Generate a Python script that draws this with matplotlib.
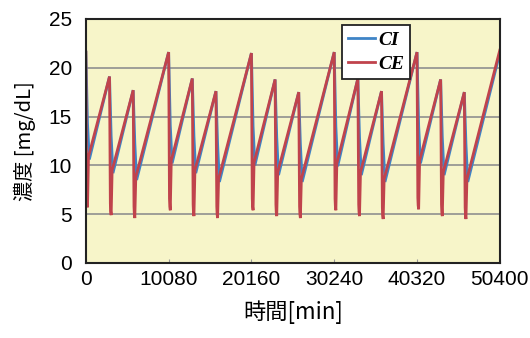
import matplotlib
matplotlib.use("Agg")
import matplotlib.pyplot as plt
from matplotlib.lines import Line2D

# Dialysis session start times [min] (Mon / Wed / Fri over five weeks)
session_t = [0, 2880, 5760, 10080, 12960, 15840, 20160, 23040, 25920,
             30240, 33120, 36000, 40320, 43200, 46080]
# Pre-dialysis concentration [mg/dL]
pre_val = [21.6, 19.1, 17.7, 21.6, 18.9, 17.6, 21.5, 18.8, 17.5,
           21.6, 18.9, 17.6, 21.6, 18.8, 17.5]
# Intracellular value at the end of the session
ci_end = [14.3, 13.0, 12.3, 14.1, 13.0, 12.2, 14.0, 12.9, 12.2,
          14.0, 12.9, 12.2, 14.1, 12.9, 12.2]
# Extracellular minimum during the session
ce_min = [5.7, 4.9, 4.6, 5.4, 4.8, 4.6, 5.4, 4.8, 4.6,
          5.4, 4.8, 4.5, 5.5, 4.8, 4.5]
# Equilibrated post-dialysis value
post_val = [10.6, 9.2, 8.5, 10.2, 9.2, 8.3, 10.0, 9.0, 8.3,
            9.9, 9.0, 8.3, 10.2, 9.0, 8.3]
# Session length and rebound times [min]
session_len = 200
ce_rebound = 320
ci_rebound = 420
# End of the simulated period
t_end = 50400
end_val = 21.5
# Offset of extracellular above intracellular during the interdialytic rise
ce_offset = 0.3

xticks = [0, 10080, 20160, 30240, 40320, 50400]
yticks = [0, 5, 10, 15, 20, 25]

t_ci, v_ci, t_ce, v_ce = [], [], [], []
for ts, p, ce_e, cm, r in zip(session_t, pre_val, ci_end, ce_min, post_val):
    t_ci += [ts, ts + session_len, ts + ci_rebound]
    v_ci += [p, ce_e, r]
    t_ce += [ts, ts + session_len * 0.5, ts + session_len * 0.7,
             ts + session_len, ts + ce_rebound]
    v_ce += [p, cm + 1.2, cm + 0.4, cm, r + ce_offset]
t_ci.append(t_end)
v_ci.append(end_val)
t_ce.append(t_end)
v_ce.append(end_val + ce_offset)

plt.rcParams['font.family'] = ['Liberation Sans', 'Noto Sans CJK JP']

fig = plt.figure(figsize=(5.3, 3.38), dpi=100)
ax = fig.add_axes([0.162, 0.222, 0.781, 0.722])
ax.set_facecolor('#f7f5c9')

ax.plot(t_ci, v_ci, color='#3f84c6', lw=2.0, solid_joinstyle='miter')
ax.plot(t_ce, v_ce, color='#c0434c', lw=2.0, solid_joinstyle='miter')

ax.set_xlim(0, 50400)
ax.set_ylim(0, 25)
ax.set_xticks(xticks)
ax.set_yticks(yticks)
ax.set_xticklabels([str(v) for v in xticks])
ax.grid(axis='y', color='#8f8f8f', lw=1.2)
ax.set_axisbelow(True)
ax.tick_params(axis='x', direction='in', length=3, color='#999999',
               labelsize=15, pad=5)
ax.tick_params(axis='y', length=0, labelsize=15, pad=10)
for sp in ax.spines.values():
    sp.set_color('#222222')
    sp.set_linewidth(1.5)

jp = ['Noto Sans CJK JP']
ax.set_ylabel('濃度 [mg/dL]', fontsize=14.5, family=jp, labelpad=9)
ax.set_xlabel('時間[min]', fontsize=16, family=jp, labelpad=8)

handles = [Line2D([], [], color='#3f84c6', lw=2),
           Line2D([], [], color='#c0434c', lw=2)]
leg = ax.legend(handles, ['CI', 'CE'], loc='upper left',
                bbox_to_anchor=(0.61, 0.99), frameon=True, fancybox=False,
                edgecolor='#222222', framealpha=1, handlelength=1.4,
                handletextpad=0.15, borderpad=0.3, labelspacing=0.35,
                borderaxespad=0.2,
                prop={'family': 'Liberation Serif', 'weight': 'bold',
                      'style': 'italic', 'size': 14})
leg.get_frame().set_linewidth(1.3)

fig.savefig('out.png', dpi=100)
